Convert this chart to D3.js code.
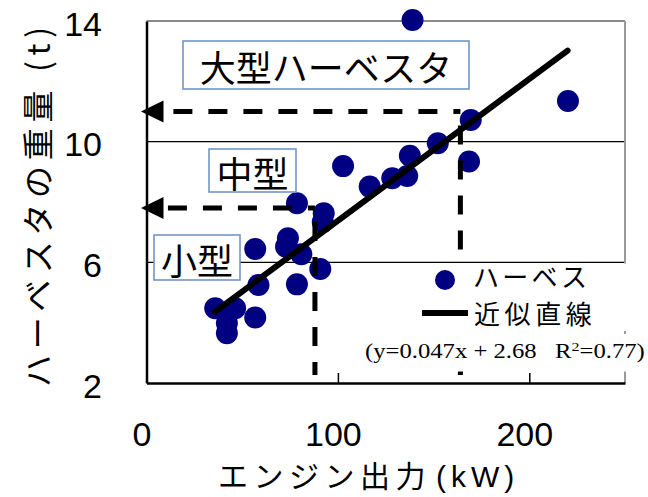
<!DOCTYPE html>
<html>
<head>
<meta charset="utf-8">
<script src="https://cdn.jsdelivr.net/npm/d3@7/dist/d3.min.js"></script>
<style>
  html, body { margin: 0; padding: 0; background: #fff; }
  svg { display: block; }
  .jp { font-family: "Noto Sans CJK JP", "Noto Sans", sans-serif; }
  .num { font-family: "Liberation Sans", Arial, sans-serif; }
</style>
</head>
<body>
<svg id="chart" width="648" height="497"></svg>
<script>
// Axis ticks
const xTicks = [0, 100, 200];
const yTicks = [2, 6, 10, 14];
const gridValues = [6, 10];

// Harvester engine output (kW) and weight (t)
const enginePower = [139, 220.2, 169.4, 152.2, 168.5, 137.6, 136.2, 128.4, 116.6, 102.7,
                     78.6, 92.6, 92.1, 56.8, 73.9, 72.9, 80.9, 90.8, 58.5, 78.6,
                     35.9, 46.3, 56.8, 42.0, 42.0];
const machineWeight = [14.03, 11.35, 10.72, 9.95, 9.34, 9.53, 8.86, 8.79, 8.51, 9.19,
                       7.96, 7.63, 7.34, 6.44, 6.80, 6.52, 6.27, 5.78, 5.25, 5.27,
                       4.48, 4.48, 4.17, 3.98, 3.65];

// Linear fit
const fitSlope = 0.047;
const fitIntercept = 2.68;
const fitR2 = 0.77;
const fitRange = [35.6, 220];

// Class boundaries (guide lines): weight level and engine output
const guideWeight = [11, 7.8];
const guidePower = [164, 88];
const classNames = ["大型ハーベスタ", "中型", "小型"];

const seriesName = "ハーベス";
const fitName = "近似直線";
const xTitleMain = "エンジン出力";
const xTitleUnit = "(kW)";
const yTitle = "ハーベスタの重量 (t)";

(function draw() {
  const svg = d3.select("#chart");
  const pLeft = 146.5, pRight = 625, pTop = 21, pBottom = 383;
  const x = d3.scaleLinear().domain([0, 250]).range([pLeft, pRight]);
  const y = d3.scaleLinear().domain([2, 14]).range([pBottom, pTop]);

  // Gridlines
  svg.append("g").selectAll("line").data(gridValues).join("line")
    .attr("x1", pLeft).attr("x2", pRight)
    .attr("y1", d => y(d)).attr("y2", d => y(d))
    .attr("stroke", "#000").attr("stroke-width", 1.2);

  // Plot frame: top and right in grey
  svg.append("line").attr("x1", pLeft).attr("x2", pRight).attr("y1", pTop).attr("y2", pTop)
    .attr("stroke", "#8a8a8a").attr("stroke-width", 2);
  svg.append("line").attr("x1", pRight).attr("x2", pRight).attr("y1", pTop).attr("y2", pBottom)
    .attr("stroke", "#9a9a9a").attr("stroke-width", 2);

  // Bottom axis with inward ticks
  const xAxis = svg.append("g").attr("transform", `translate(0,${pBottom})`)
    .call(d3.axisBottom(x).tickValues(xTicks).tickSizeInner(-10).tickSizeOuter(0).tickFormat(d3.format("d")));
  xAxis.select(".domain").attr("stroke", "#000").attr("stroke-width", 2.5);
  xAxis.selectAll(".tick line").attr("stroke", "#000").attr("stroke-width", 1.5);
  xAxis.selectAll(".tick text")
    .attr("class", "num").attr("font-size", 34).attr("fill", "#000")
    .attr("x", -5).attr("y", 63).attr("dy", 0);

  // Left axis
  const yAxis = svg.append("g").attr("transform", `translate(${pLeft},0)`)
    .call(d3.axisLeft(y).tickValues(yTicks).tickSize(0).tickSizeOuter(0).tickFormat(d3.format("d")));
  yAxis.select(".domain").attr("stroke", "#000").attr("stroke-width", 2.5);
  yAxis.selectAll(".tick text")
    .attr("class", "num").attr("font-size", 34).attr("fill", "#000")
    .attr("x", -44.5).attr("dy", 14);

  // Data points
  const pts = enginePower.map((p, i) => ({ p, w: machineWeight[i] }));
  svg.append("g").selectAll("circle").data(pts).join("circle")
    .attr("cx", d => x(d.p)).attr("cy", d => y(d.w)).attr("r", 11)
    .attr("fill", "#000080");

  // Guide lines with arrows toward the weight axis
  const guides = svg.append("g");
  guideWeight.forEach((w, i) => {
    const gx = x(guidePower[i]);
    const gy = y(w);
    const tipX = pLeft - 5.5;
    const baseX = pLeft + 17;
    guides.append("path")
      .attr("d", `M${gx},${gy}H${baseX}`)
      .attr("stroke", "#000").attr("stroke-width", 5).attr("fill", "none")
      .attr("stroke-dasharray", "19,16").attr("stroke-dashoffset", 12);
    guides.append("path")
      .attr("d", `M${gx},${gy}V${pBottom - 8}`)
      .attr("stroke", "#000").attr("stroke-width", 5).attr("fill", "none")
      .attr("stroke-dasharray", "19,16").attr("stroke-dashoffset", -14);
    guides.append("path")
      .attr("d", `M${tipX},${gy}L${baseX},${gy - 11}L${baseX},${gy + 11}Z`)
      .attr("fill", "#000");
  });

  // Fitted line
  svg.append("line")
    .attr("x1", x(fitRange[0])).attr("y1", y(fitSlope * fitRange[0] + fitIntercept))
    .attr("x2", x(fitRange[1])).attr("y2", y(fitSlope * fitRange[1] + fitIntercept))
    .attr("stroke", "#000").attr("stroke-width", 6).attr("stroke-linecap", "round");

  // Class label boxes
  const boxes = [
    { text: classNames[0], x0: 183, y0: 41, x1: 469, y1: 89 },
    { text: classNames[1], x0: 209, y0: 149, x1: 296, y1: 192 },
    { text: classNames[2], x0: 154, y0: 235, x1: 240, y1: 280 }
  ];
  boxes.forEach(b => {
    svg.append("rect")
      .attr("x", b.x0).attr("y", b.y0).attr("width", b.x1 - b.x0).attr("height", b.y1 - b.y0)
      .attr("fill", "#fff").attr("stroke", "#7096c8").attr("stroke-width", 1.6);
    svg.append("text").attr("class", "jp")
      .attr("x", (b.x0 + b.x1) / 2).attr("y", (b.y0 + b.y1) / 2 + 1)
      .attr("text-anchor", "middle").attr("dominant-baseline", "central")
      .attr("font-size", 36).attr("fill", "#000")
      .text(b.text);
  });

  // Legend panel
  svg.append("rect").attr("x", 398).attr("y", 263.5).attr("width", 250).attr("height", 67.5).attr("fill", "#fff");
  svg.append("rect").attr("x", 360).attr("y", 334).attr("width", 288).attr("height", 37.5).attr("fill", "#fff");
  svg.append("circle").attr("cx", 445).attr("cy", 280).attr("r", 10).attr("fill", "#000080");
  svg.append("text").attr("class", "jp").attr("x", 473).attr("y", 275.5)
    .attr("dominant-baseline", "central").attr("font-size", 26).attr("letter-spacing", 3.2)
    .attr("fill", "#000").text(seriesName);
  svg.append("line").attr("x1", 422).attr("x2", 468).attr("y1", 313).attr("y2", 313)
    .attr("stroke", "#000").attr("stroke-width", 6);
  svg.append("text").attr("class", "jp").attr("x", 474).attr("y", 312.5)
    .attr("dominant-baseline", "central").attr("font-size", 26).attr("letter-spacing", 4.6)
    .attr("fill", "#000").text(fitName);

  // Regression equation
  const eq = svg.append("text")
    .attr("font-family", "'Liberation Serif', 'Times New Roman', serif")
    .attr("font-size", 20).attr("fill", "#000")
    .style("white-space", "pre");
  eq.append("tspan").text(`(y=${fitSlope}x + ${fitIntercept}   R`);
  eq.append("tspan").attr("font-size", 13).attr("dy", -7).text("2");
  eq.append("tspan").attr("dy", 7).text(`=${fitR2})`);
  const eqLen = eq.node().getComputedTextLength();
  eq.attr("transform", `translate(365,358) scale(${280 / eqLen},1)`);

  // Axis titles
  const xt = svg.append("text").attr("x", 218).attr("y", 487).attr("fill", "#000");
  xt.append("tspan").attr("class", "jp").attr("font-size", 30).attr("letter-spacing", 5.5).text(xTitleMain);
  xt.append("tspan").attr("class", "num").attr("x", 436).attr("font-size", 30).attr("letter-spacing", 5).text(xTitleUnit);
  svg.append("text").attr("class", "jp")
    .attr("transform", "translate(36,387) rotate(-90)")
    .attr("dominant-baseline", "central")
    .attr("font-size", 32).attr("fill", "#000")
    .attr("textLength", 360).attr("lengthAdjust", "spacing")
    .text(yTitle);
})();
</script>
</body>
</html>
